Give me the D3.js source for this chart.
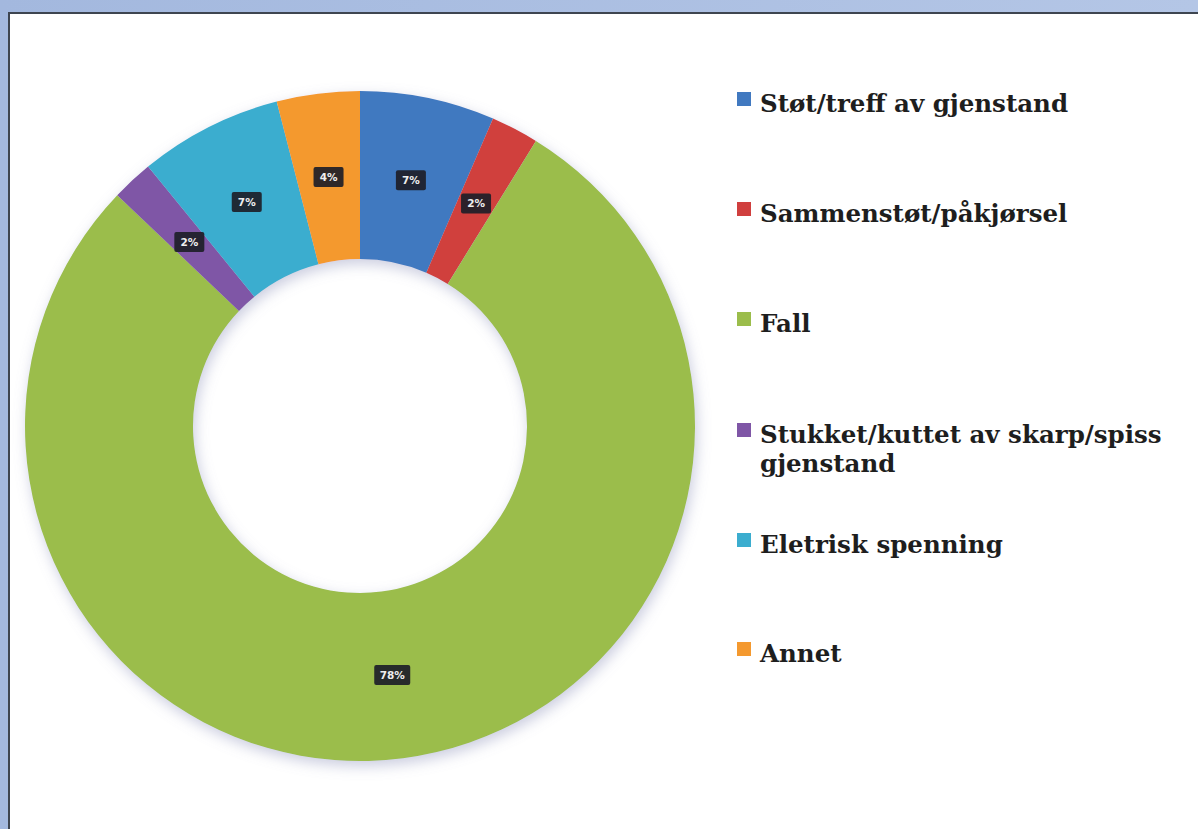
<!DOCTYPE html>
<html>
<head>
<meta charset="utf-8">
<script src="https://cdn.jsdelivr.net/npm/d3@7"></script>
<style>
  html, body { margin: 0; padding: 0; }
  body { width: 1198px; height: 829px; overflow: hidden; }
</style>
</head>
<body>
<svg id="chart" width="1198" height="829"></svg>
<script>
// Data
const categories = [
  "Støt/treff av gjenstand",
  "Sammenstøt/påkjørsel",
  "Fall",
  "Stukket/kuttet av skarp/spiss gjenstand",
  "Eletrisk spenning",
  "Annet"
];
const shares = [6.5, 2.3, 78.3, 2.0, 6.9, 4.0];
const sliceColors = ["#4179c0", "#d03f3e", "#9bbd4b", "#7f56a6", "#3badcf", "#f4992f"];
const legendLines = [
  ["Støt/treff av gjenstand"],
  ["Sammenstøt/påkjørsel"],
  ["Fall"],
  ["Stukket/kuttet av skarp/spiss", "gjenstand"],
  ["Eletrisk spenning"],
  ["Annet"]
];

const svg = d3.select("#chart");
const W = 1198, H = 829;

// Background
const defs = svg.append("defs");
const bg = defs.append("linearGradient").attr("id", "bg").attr("x1", 0).attr("x2", 1).attr("y1", 0).attr("y2", 0);
bg.append("stop").attr("offset", "0%").attr("stop-color", "#a3b8de");
bg.append("stop").attr("offset", "100%").attr("stop-color", "#b4c6e6");
svg.append("rect").attr("width", W).attr("height", H).attr("fill", "url(#bg)");

// Panel
svg.append("rect")
  .attr("x", 9).attr("y", 13).attr("width", W + 20).attr("height", H + 20)
  .attr("fill", "#ffffff").attr("stroke", "#3e4550").attr("stroke-width", 2);

// Shadow filter
const f = defs.append("filter").attr("id", "shadow")
  .attr("x", "-20%").attr("y", "-20%").attr("width", "140%").attr("height", "140%");
f.append("feGaussianBlur").attr("in", "SourceAlpha").attr("stdDeviation", 7).attr("result", "blur");
f.append("feOffset").attr("in", "blur").attr("dx", 2).attr("dy", 5).attr("result", "off");
f.append("feFlood").attr("flood-color", "#8a8fb8").attr("flood-opacity", 0.45).attr("result", "col");
f.append("feComposite").attr("in", "col").attr("in2", "off").attr("operator", "in").attr("result", "sh");
const m = f.append("feMerge");
m.append("feMergeNode").attr("in", "sh");
m.append("feMergeNode").attr("in", "SourceGraphic");

// Donut
const cx = 360, cy = 426, R = 335, r = 167;
const color = d3.scaleOrdinal().domain(categories).range(sliceColors);
const pie = d3.pie().sort(null).value(d => d.v);
const data = categories.map((c, i) => ({ c, v: shares[i] }));
const arcs = pie(data);
const arc = d3.arc().innerRadius(r).outerRadius(R);
const total = d3.sum(shares);

const g = svg.append("g").attr("transform", `translate(${cx},${cy})`);
g.append("g").attr("filter", "url(#shadow)")
  .selectAll("path").data(arcs).join("path")
  .attr("d", arc)
  .attr("fill", d => color(d.data.c));

// Labels
const lab = g.selectAll("g.lab").data(arcs).join("g").attr("class", "lab")
  .attr("transform", d => `translate(${arc.centroid(d)})`);
lab.each(function(d) {
  const t = Math.round(d.data.v / total * 100) + "%";
  const w = t.length > 2 ? 36 : 30;
  const sel = d3.select(this);
  sel.append("rect").attr("x", -w / 2).attr("y", -10).attr("width", w).attr("height", 20)
    .attr("rx", 2).attr("fill", "#1d1e28").attr("opacity", 0.92);
  sel.append("text").text(t)
    .attr("text-anchor", "middle").attr("dy", "0.36em")
    .attr("font-family", "DejaVu Sans, sans-serif").attr("font-weight", "bold")
    .attr("font-size", 10.5).attr("fill", "#eeeeee");
});

// Legend
const legendY = [112, 222, 332, 443, 553, 662];
const leg = svg.append("g");
categories.forEach((c, i) => {
  const y = legendY[i];
  leg.append("rect").attr("x", 737).attr("y", y - 20).attr("width", 14).attr("height", 14)
    .attr("fill", color(c));
  const t = leg.append("text")
    .attr("x", 760).attr("y", y)
    .attr("font-family", "DejaVu Serif, serif").attr("font-weight", "bold")
    .attr("font-size", 24.5).attr("fill", "#1e1e1e");
  legendLines[i].forEach((line, j) => {
    t.append("tspan").attr("x", 760).attr("dy", j === 0 ? 0 : 29).text(line);
  });
});
</script>
</body>
</html>
